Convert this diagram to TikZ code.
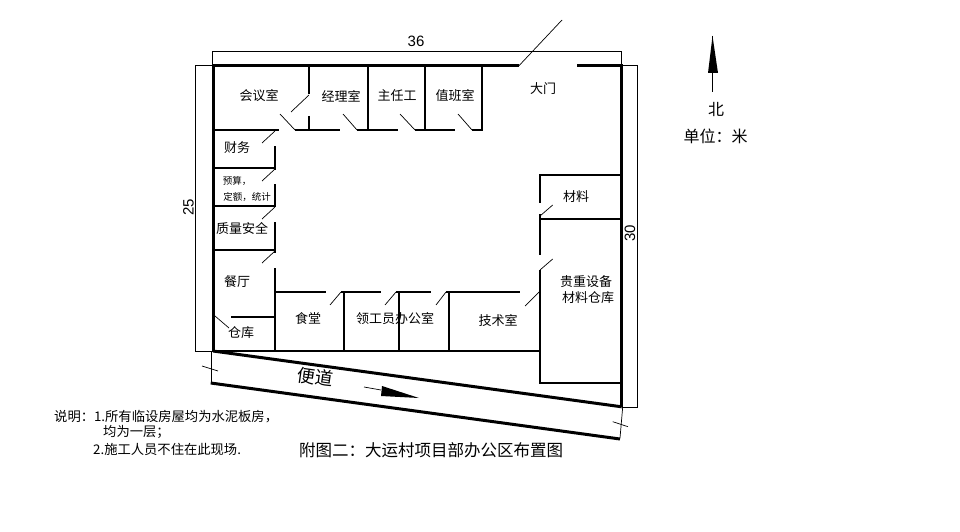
\documentclass[tikz,border=0pt]{standalone}
\usepackage{fontspec}
\setmainfont{Noto Sans CJK SC}
\newfontfamily\numfont{Liberation Sans}
\newcommand\fsz[1]{\fontsize{#1}{#1}\selectfont}
\tikzset{
  outerwall/.style={line width=3.3pt,line cap=butt},
  wall/.style={line width=2pt,line cap=butt},
  road/.style={line width=3pt},
  thinline/.style={line width=0.7pt},
  lab/.style={inner sep=0pt,font=\fsz{13}},
  labsmall/.style={inner sep=0pt,font=\fsz{9.5}},
  note/.style={inner sep=0pt,anchor=west,font=\fsz{13.3}},
  dimnum/.style={inner sep=0pt,font=\numfont\fsz{15}},
}
\begin{document}
\begin{tikzpicture}[x=1pt,y=-1pt]
\useasboundingbox[fill=white] (0,0) rectangle (960,532);

% dimension lines
\draw[thinline] (212.3,66) -- (212.3,51.7) -- (621.3,51.7) -- (621.3,66);
\draw[thinline] (213,65.7) -- (195.7,65.7) -- (195.7,351) -- (213,351);
\draw[thinline] (622,65.5) -- (637.3,65.5) -- (637.3,407) -- (622,407);
\node[dimnum] (d36) at (416,41) {36};
\node[dimnum,rotate=90] (d25) at (188.5,207) {25};
\node[dimnum,rotate=90] (d30) at (630,233) {30};

% outer walls
\draw[outerwall] (519,65.7) -- (213.3,65.7) -- (213.3,351);
\draw[outerwall] (577,65.7) -- (621.7,65.7) -- (621.7,407);

% gate
\draw[thinline] (519,65.7) -- (562,20);

% north row of rooms
\draw[wall] (309,66) -- (309,94);
\draw[wall] (309,116) -- (309,130);
\draw[wall] (368,66) -- (368,130);
\draw[wall] (425,66) -- (425,130);
\draw[wall] (482,66) -- (482,131);
\draw[wall] (213,130) -- (279,130);
\draw[wall] (295,130) -- (340,130);
\draw[wall] (357,130) -- (398,130);
\draw[wall] (415,130) -- (455,130);
\draw[wall] (472,130) -- (483,130);
\draw[thinline] (309,95) -- (291,112);
\draw[thinline] (280,114) -- (295,130);
\draw[thinline] (343,114) -- (357,130);
\draw[thinline] (400,114) -- (415,130);
\draw[thinline] (458,114) -- (472,130);

% west row of rooms
\draw[wall] (275,146) -- (275,170);
\draw[wall] (275,184) -- (275,207);
\draw[wall] (275,222) -- (275,252.5);
\draw[wall] (275,268) -- (275,351);
\draw[wall] (213,167.7) -- (276,167.7);
\draw[wall] (213,206) -- (276,206);
\draw[wall] (213,250) -- (276,250);
\draw[wall] (231,316.7) -- (276,316.7);
\draw[thinline] (275,131) -- (262,143);
\draw[thinline] (275,169) -- (262,181);
\draw[thinline] (275,207) -- (262,219);
\draw[thinline] (275,251) -- (262,263);
\draw[thinline] (215,316) -- (229,328);

% south row of rooms
\draw[wall] (275,291.7) -- (326,291.7);
\draw[wall] (341,291.7) -- (381,291.7);
\draw[wall] (396,291.7) -- (431,291.7);
\draw[wall] (446,291.7) -- (520,291.7);
\draw[wall] (344,292) -- (344,351);
\draw[wall] (399,292) -- (399,351);
\draw[wall] (449,292) -- (449,351);
\draw[wall] (213,351) -- (541,351);
\draw[thinline] (341,292) -- (330,305);
\draw[thinline] (396,292) -- (385,305);
\draw[thinline] (446,292) -- (436,305);
\draw[thinline] (540,291) -- (525,306);

% east rooms
\draw[wall] (540,202.7) -- (540,175) -- (621,175);
\draw[wall] (540,214) -- (540,255);
\draw[wall] (540,270) -- (540,383) -- (621,383);
\draw[wall] (540,219) -- (621,219);
\draw[thinline] (540,216) -- (552.7,205);
\draw[thinline] (540,270) -- (552.7,259);

% road
\draw[road] (213,351) -- (621.7,406.8);
\draw[road] (210.7,383) -- (620,439);
\draw[thinline] (211.7,351) -- (211.7,383);
\draw[thinline] (202,366) -- (218,371);
\draw[thinline] (622.7,407) -- (620,438);
\draw[thinline] (612.7,421.7) -- (628,426.7);
\draw[thinline] (364,387) -- (381,390);
\fill (382,386) -- (381,396) -- (419,398) -- cycle;

% north arrow
\draw[thinline] (712.5,36) -- (712.5,91.7);
\fill (712.5,36) -- (718,73) -- (708,73) -- cycle;

% labels
\node[lab] (huiyi) at (259,96) {会议室};
\node[lab] (jingli) at (341,96) {经理室};
\node[lab] (zhuren) at (397,96) {主任工};
\node[lab] (zhiban) at (455,96) {值班室};
\node[lab] (caiwu) at (237,148) {财务};
\node[labsmall] (yusuan) at (237,181) {预算，};
\node[labsmall] (dinge) at (247,197) {定额，统计};
\node[lab] (zhiliang) at (242,228) {质量安全};
\node[lab] (canting) at (237,282) {餐厅};
\node[lab] (cangku) at (241,333) {仓库};
\node[lab] (shitang) at (308,318) {食堂};
\node[lab] (linggong) at (395,319) {领工员办公室};
\node[lab] (jishu) at (498,320) {技术室};
\node[lab] (damen) at (543,89) {大门};
\node[lab] (cailiao) at (576,197) {材料};
\node[lab] (guizhong) at (586,282) {贵重设备};
\node[lab] (cangku2) at (588,298) {材料仓库};
\node[inner sep=0pt,font=\fsz{18},rotate=-8] (biandao) at (315,377) {便道};
\node[inner sep=0pt,font=\fsz{16}] (bei) at (716,109) {北};
\node[inner sep=0pt,font=\fsz{16}] (danwei) at (715.5,136) {单位：米};

% notes
\node[note] (n1) at (54,417) {说明：1.所有临设房屋均为水泥板房，};
\node[note] (n2) at (103,432) {均为一层；};
\node[note] (n3) at (93,449) {2.施工人员不住在此现场.};
\node[inner sep=0pt,font=\fsz{16.5}] (cap) at (431,450) {附图二：大运村项目部办公区布置图};
\end{tikzpicture}
\end{document}
